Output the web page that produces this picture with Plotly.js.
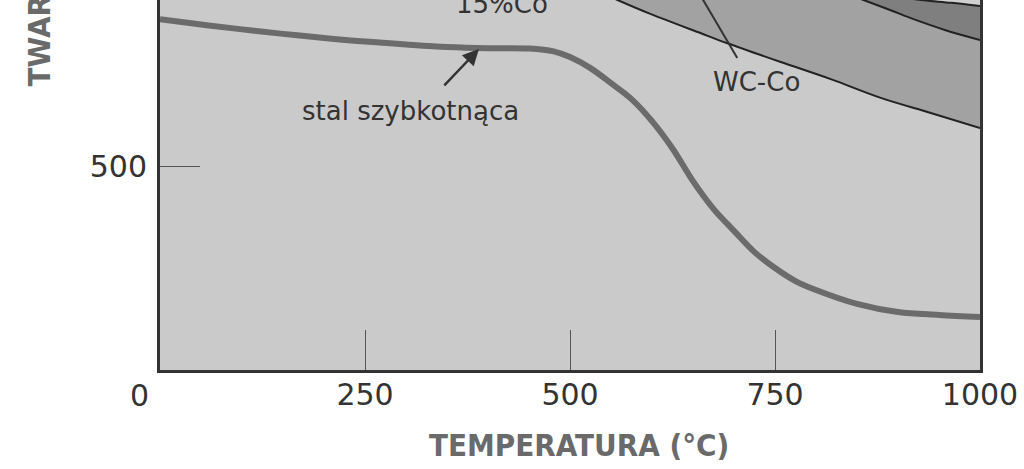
<!DOCTYPE html>
<html>
<head>
<meta charset="utf-8">
<script src="https://cdn.plot.ly/plotly-3.0.1.min.js"></script>
<style>html,body{margin:0;padding:0;background:#fff;}#chart{width:1024px;height:469px;}</style>
</head>
<body>
<div id="chart"></div>
<script>
// High-speed steel hardness vs temperature
const hssTemp = [0,50,100,150,200,250,300,350,400,450,480,500,525,550,575,600,625,650,675,700,725,750,775,800,850,900,950,1000];
const hssHard = [860,847,835,824,814,805,798,792,789,788,781,767,740,703,664,610,543,463,395,341,289,250,218,196,162,142,135,130];

// WC-Co band boundaries (upper region, partly cut off)
const lineATemp = [500,558,598,659,692,757,818,879,940,1000];
const lineAHard = [960,907,873,826,801,755,713,667,630,593];
const lineBTemp = [800,858,891,919,958,1000];
const lineBHard = [950,907,882,860,833,809];
const lineCTemp = [880,928,965,1000];
const lineCHard = [920,907,900,892];

// pointer from "WC-Co" label
const pointerTemp = [704,648];
const pointerHard = [765,956];

const xTickVals = [250,500,750,1000];
const xTickText = ['250','500','750','1000'];
const yTickVals = [500];
const yTickText = ['500'];

const TOP = 3000;
function above(xs, ys){
  return {x: xs.concat([xs[xs.length-1], xs[0]]), y: ys.concat([TOP, TOP])};
}
const bandA = above(lineATemp, lineAHard);
const bandB = above(lineBTemp, lineBHard);
const bandC = above(lineCTemp, lineCHard);

const traces = [
  {x: bandA.x, y: bandA.y, fill:'toself', fillcolor:'#a2a2a2', mode:'lines', line:{width:0}, hoverinfo:'skip', showlegend:false},
  {x: bandB.x, y: bandB.y, fill:'toself', fillcolor:'#7f7f7f', mode:'lines', line:{width:0}, hoverinfo:'skip', showlegend:false},
  {x: bandC.x, y: bandC.y, fill:'toself', fillcolor:'#d0d0d0', mode:'lines', line:{width:0}, hoverinfo:'skip', showlegend:false},
  {x: lineATemp, y: lineAHard, mode:'lines', line:{color:'#222', width:2, shape:'spline'}, showlegend:false},
  {x: lineBTemp, y: lineBHard, mode:'lines', line:{color:'#222', width:2, shape:'spline'}, showlegend:false},
  {x: lineCTemp, y: lineCHard, mode:'lines', line:{color:'#222', width:2, shape:'spline'}, showlegend:false},
  {x: pointerTemp, y: pointerHard, mode:'lines', line:{color:'#333', width:2}, showlegend:false},
  {x: hssTemp, y: hssHard, mode:'lines', line:{color:'#6b6b6b', width:6, shape:'spline', smoothing:1}, showlegend:false}
];

const labelFont = {family:'DejaVu Sans, sans-serif', size:26, color:'#333'};
const titleFont = {family:'DejaVu Sans Condensed, DejaVu Sans, sans-serif', size:31, color:'#6a6a6a', weight:'bold'};
const tickFont = {family:'DejaVu Sans, sans-serif', size:30, color:'#333'};

const layout = {
  width:1024, height:469,
  margin:{l:160, r:44, t:0, b:99},
  paper_bgcolor:'#ffffff', plot_bgcolor:'#cacaca',
  showlegend:false,
  xaxis:{
    range:[0,1000], showgrid:false, zeroline:false,
    showline:true, linecolor:'#333', linewidth:3, mirror:false,
    ticks:'inside', ticklen:40, tickwidth:1, tickcolor:'#555',
    tickvals:xTickVals, ticktext:xTickText,
    tickfont:tickFont,
    ticklabelstandoff:-4
  },
  yaxis:{
    range:[0,907], showgrid:false, zeroline:false,
    showline:true, linecolor:'#333', linewidth:3, mirror:true,
    ticks:'inside', ticklen:40, tickwidth:1, tickcolor:'#555',
    tickvals:yTickVals, ticktext:yTickText,
    tickfont:tickFont,
    ticklabelstandoff:4
  },
  annotations:[
    {x:-0.0244, y:-0.0676, xref:'paper', yref:'paper', xanchor:'center', yanchor:'middle', text:'0', showarrow:false, font:tickFont},
    {x:305, y:635, xref:'x', yref:'y', text:'stal szybkotnąca', showarrow:false, font:labelFont},
    {x:389, y:787, ax:345, ay:694, xref:'x', yref:'y', axref:'x', ayref:'y', text:'', showarrow:true, arrowhead:2, arrowsize:1.3, arrowwidth:2.5, arrowcolor:'#333'},
    {x:417, y:897, xref:'x', yref:'y', text:'15%Co', showarrow:false, font:labelFont},
    {x:727, y:706, xref:'x', yref:'y', text:'WC-Co', showarrow:false, font:labelFont},
    {x:0.511, y:-0.2027, xref:'paper', yref:'paper', yanchor:'middle', text:'TEMPERATURA (°C)', showarrow:false, font:titleFont},
    {x:-0.1476, y:0.762, xref:'paper', yref:'paper', xanchor:'center', yanchor:'bottom', textangle:-90, text:'TWARDOŚĆ (HV)', showarrow:false, font:titleFont}
  ]
};

Plotly.newPlot('chart', traces, layout, {staticPlot:true, displayModeBar:false});
</script>
</body>
</html>
